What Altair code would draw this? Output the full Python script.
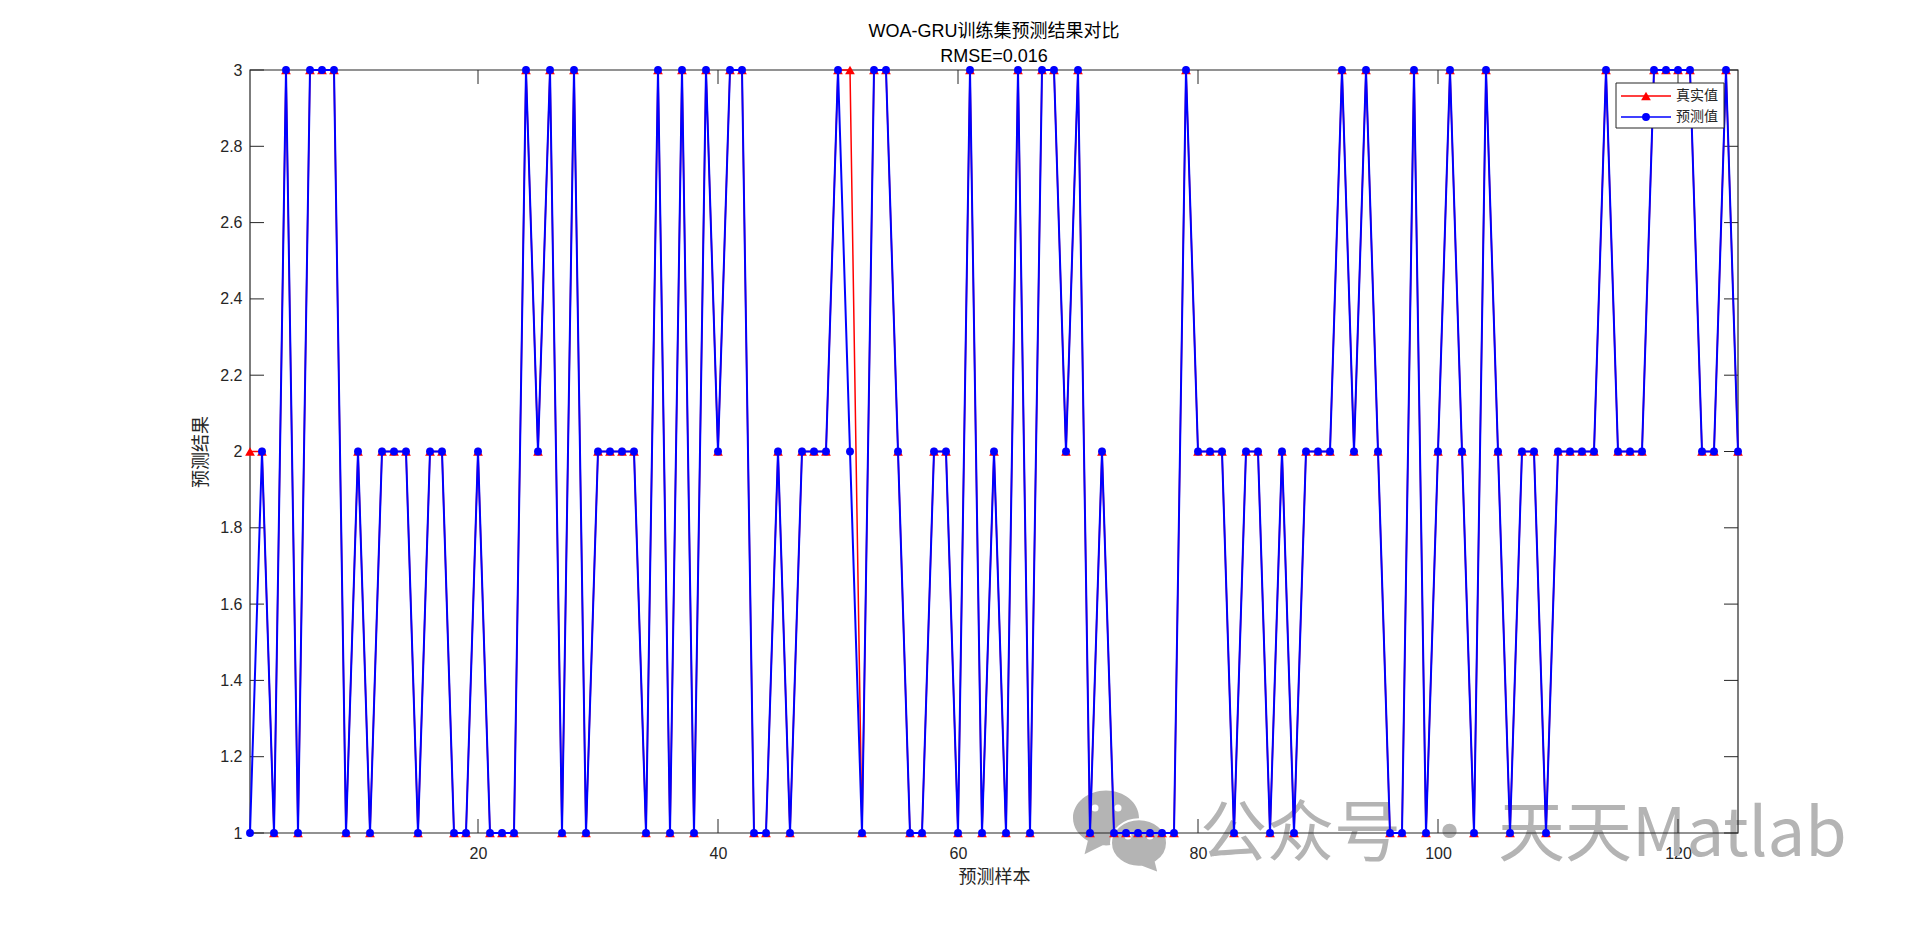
import altair as alt
import pandas as pd

predicted = [1,2,1,3,1,3,3,3,1,2,1,2,2,2,1,2,2,1,1,2,1,1,1,3,2,3,1,3,1,2,2,2,2,1,3,1,3,1,3,2,3,3,1,1,2,1,2,2,2,3,
             2,1,3,3,2,1,1,2,2,1,3,1,2,1,3,1,3,3,2,3,1,2,1,1,1,1,1,1,3,2,2,2,1,2,2,1,2,1,2,2,2,3,2,3,2,1,1,3,1,2,
             3,2,1,3,2,1,2,2,1,2,2,2,2,3,2,2,2,3,3,3,3,2,2,3,2]
actual = list(predicted)
actual[0] = 2
actual[50] = 3
samples = list(range(1, len(predicted) + 1))

x_ticks = [20, 40, 60, 80, 100, 120]
y_ticks = [1, 1.2, 1.4, 1.6, 1.8, 2, 2.2, 2.4, 2.6, 2.8, 3]
title_lines = ["WOA-GRU训练集预测结果对比", "RMSE=0.016"]
x_title = "预测样本"
y_title = "预测结果"
legend_names = ["真实值", "预测值"]
watermark = "公众号 · 天天Matlab"

W, H = 1488, 763
FONT = "Liberation Sans, Noto Sans CJK SC"
INK = "#262626"
BLUE = "#0000ff"
RED = "#ff0000"
GREY = "#b4b4b4"

df = pd.DataFrame({"x": samples, "actual": actual, "pred": predicted})
xs = alt.Scale(domain=[1, 125], nice=False, zero=False)
ys = alt.Scale(domain=[1, 3], nice=False, zero=False)
x_axis = alt.Axis(values=x_ticks, title=x_title, format="d", grid=False,
          domain=False, ticks=False, labelFontSize=16, labelColor=INK, labelFont=FONT, labelPadding=12,
          titleFont=FONT, titleFontSize=18, titleFontWeight="normal", titleColor=INK, titlePadding=7)
y_axis = alt.Axis(values=y_ticks, title=y_title, grid=False,
          labelExpr="format(datum.value, datum.value == floor(datum.value) ? 'd' : '.1f')",
          domain=False, ticks=False, labelFontSize=16, labelColor=INK, labelFont=FONT, labelPadding=8,
          titleFont=FONT, titleFontSize=18, titleFontWeight="normal", titleColor=INK, titlePadding=9)
X = alt.X("x:Q", scale=xs, axis=x_axis)
Y = alt.Y("actual:Q", scale=ys, axis=y_axis)
YP = alt.Y("pred:Q", scale=ys, axis=y_axis)

base = alt.Chart(df)
one = pd.DataFrame({"k": [0]})

# watermark (behind everything)
BIG = "M-1,0A1,.83 0 0 1 1,0A1,.83 0 0 1 -.1,.826L-.65,1.1L-.55,.69A1,.83 0 0 1 -1,0Z"
SMALL = "M-1,0A1,.85 0 0 1 1,0A1,.85 0 0 1 .6,.68L.7,1.08L.1,.845A1,.85 0 0 1 -1,0Z"
wm_text = alt.Chart(pd.DataFrame({"t": [watermark]})).mark_text(
    font="Noto Sans CJK SC", fontSize=67, color=GREY, align="left", baseline="middle", clip=False
).encode(x=alt.value(950), y=alt.value(766), text="t:N")
icon_big = alt.Chart(one).mark_point(filled=True, shape=BIG, color=GREY, size=4356, opacity=1).encode(
    x=alt.value(856), y=alt.value(748))
icon_small = alt.Chart(one).mark_point(filled=True, shape=SMALL, fill=GREY, stroke="white", strokeWidth=2,
    size=3136, opacity=1).encode(x=alt.value(889), y=alt.value(773))
eye_x = [845, 868, 878, 900]
eye_y = [738, 738, 766, 766]
eyes = [alt.Chart(one).mark_point(filled=True, shape="circle", color="white", size=50, opacity=1).encode(
    x=alt.value(a), y=alt.value(b)) for a, b in zip(eye_x, eye_y)]

# box
frame = alt.Chart(one).mark_rect(fill="transparent", stroke=INK, strokeWidth=1.2).encode(
    x=alt.value(0), x2=alt.value(W), y=alt.value(0), y2=alt.value(H))

# inward ticks on four sides
L = 14
xt = alt.Chart(pd.DataFrame({"v": x_ticks}))
yt = alt.Chart(pd.DataFrame({"v": y_ticks}))
tick_kw = dict(color=INK, strokeWidth=1)
XT = alt.X("v:Q", scale=xs, axis=x_axis)
YT = alt.Y("v:Q", scale=ys, axis=y_axis)
tb = xt.mark_rule(**tick_kw).encode(x=XT, y=alt.value(H), y2=alt.value(H - L))
tt = xt.mark_rule(**tick_kw).encode(x=XT, y=alt.value(0), y2=alt.value(L))
tl = yt.mark_rule(**tick_kw).encode(y=YT, x=alt.value(0), x2=alt.value(L))
tr = yt.mark_rule(**tick_kw).encode(y=YT, x=alt.value(W), x2=alt.value(W - L))

# series
line_a = base.mark_line(color=RED, strokeWidth=1.5, clip=False).encode(x=X, y=Y)
pts_a = base.mark_point(shape="triangle-up", filled=True, color=RED, size=95, opacity=1, clip=False).encode(x=X, y=Y)
line_p = base.mark_line(color=BLUE, strokeWidth=2, clip=False).encode(x=X, y=YP)
pts_p = base.mark_point(shape="circle", filled=True, color=BLUE, size=62, opacity=1, clip=False).encode(x=X, y=YP)

# legend box
lx0, lx1, ly0, ly1 = 1366, 1474, 13, 58
rows = [26, 47]
lg_box = alt.Chart(one).mark_rect(fill="white", stroke=INK, strokeWidth=1).encode(
    x=alt.value(lx0), x2=alt.value(lx1), y=alt.value(ly0), y2=alt.value(ly1))
lg_lines = []
for name, ry, col, shp in zip(legend_names, rows, [RED, BLUE], ["triangle-up", "circle"]):
    d = alt.Chart(pd.DataFrame({"n": [name]}))
    lg_lines.append(d.mark_rule(color=col, strokeWidth=1.6).encode(x=alt.value(lx0 + 5), x2=alt.value(lx0 + 55), y=alt.value(ry)))
    lg_lines.append(d.mark_point(shape=shp, filled=True, color=col, size=95 if shp != "circle" else 62, opacity=1).encode(x=alt.value(lx0 + 30), y=alt.value(ry)))
    lg_lines.append(d.mark_text(font="Noto Sans CJK SC", fontSize=14, color=INK, align="left", baseline="middle").encode(
        x=alt.value(lx0 + 60), y=alt.value(ry), text="n:N"))

chart = alt.layer(
    wm_text, icon_big, icon_small, *eyes, frame, tb, tt, tl, tr,
    line_a, pts_a, line_p, pts_p, lg_box, *lg_lines
).properties(
    width=W, height=H,
    title=alt.TitleParams(text=title_lines, font=FONT, fontSize=18, fontWeight="normal", color="#000000",
                          anchor="middle", lineHeight=25, offset=-4),
    autosize=alt.AutoSizeParams(type="none"),
    padding={"left": 242, "top": 62, "right": 174, "bottom": 96},
).configure_view(stroke=None)

chart.save("out.html", embed_options={"renderer": "svg", "actions": False})
